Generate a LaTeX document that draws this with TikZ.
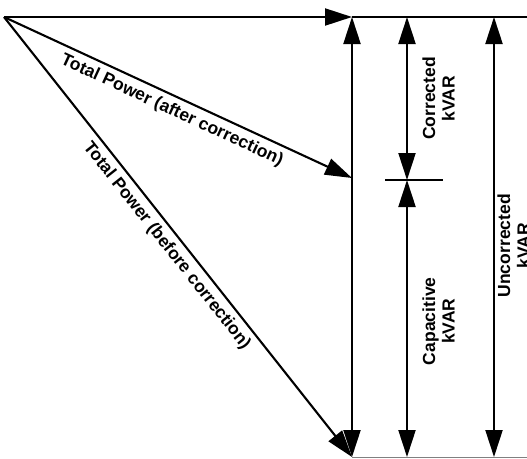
\documentclass[tikz,border=0pt]{standalone}
\usepackage{fontspec}
\setmainfont{Liberation Sans}
\usetikzlibrary{arrows.meta}
\begin{document}
\begin{tikzpicture}[x=1pt, y=-1pt, >={Triangle[length=27pt,width=17pt]},
  font=\bfseries\fontsize{17.5}{19.5}\selectfont]

% --- Рамка ---
\useasboundingbox (0,0) rectangle (527,458);

% --- Параметры ---
\def\xv{352}   % главная вертикаль
\def\xc{407}   % корректированная / ёмкостная
\def\xu{494}   % некорректированная
\def\yt{17}    % верх
\def\yb{457}   % низ
\def\ym{180}   % граница

% --- Точки ---
\coordinate (O) at (4,\yt);
\coordinate (top) at (\xv,\yt);
\coordinate (bot) at (\xv,\yb);
\coordinate (after) at (\xv,178);
\coordinate (ctop) at (\xc,\yt);
\coordinate (cmid) at (\xc,\ym);
\coordinate (cbot) at (\xc,\yb);
\coordinate (utop) at (\xu,\yt);
\coordinate (ubot) at (\xu,\yb);

% --- Опорные линии ---
\draw[line width=2.1pt] (top) -- (527,\yt);
\draw[gray, line width=0.9pt] (bot) -- (527,\yb);
\draw[line width=1.8pt] (385,\ym) -- (443,\ym);

% --- Векторы мощности ---
\draw[->, line width=2.1pt] (O) -- (top);
\draw[->, line width=2.1pt] (O) -- (after)
  node[midway, sloped, below=2pt] {Total Power (after correction)};
\draw[->, line width=2.1pt] (O) -- (bot)
  node[midway, sloped, below=2pt] {Total Power (before correction)};

% --- Вертикальные размеры ---
\draw[<->, line width=2.1pt] (top) -- (bot);
\draw[<->, line width=2.1pt] (ctop) -- (cmid)
  node[midway, right=11pt, rotate=90, anchor=north, align=center] {Corrected\\kVAR};
\draw[<->, line width=2.1pt] (cmid) -- (cbot)
  node[pos=0.51, right=11pt, rotate=90, anchor=north, align=center] {Capacitive\\kVAR};
\draw[<->, line width=2.1pt] (utop) -- (ubot)
  node[pos=0.52, right=-1pt, rotate=90, anchor=north, align=center] {Uncorrected\\kVAR};

\end{tikzpicture}
\end{document}
